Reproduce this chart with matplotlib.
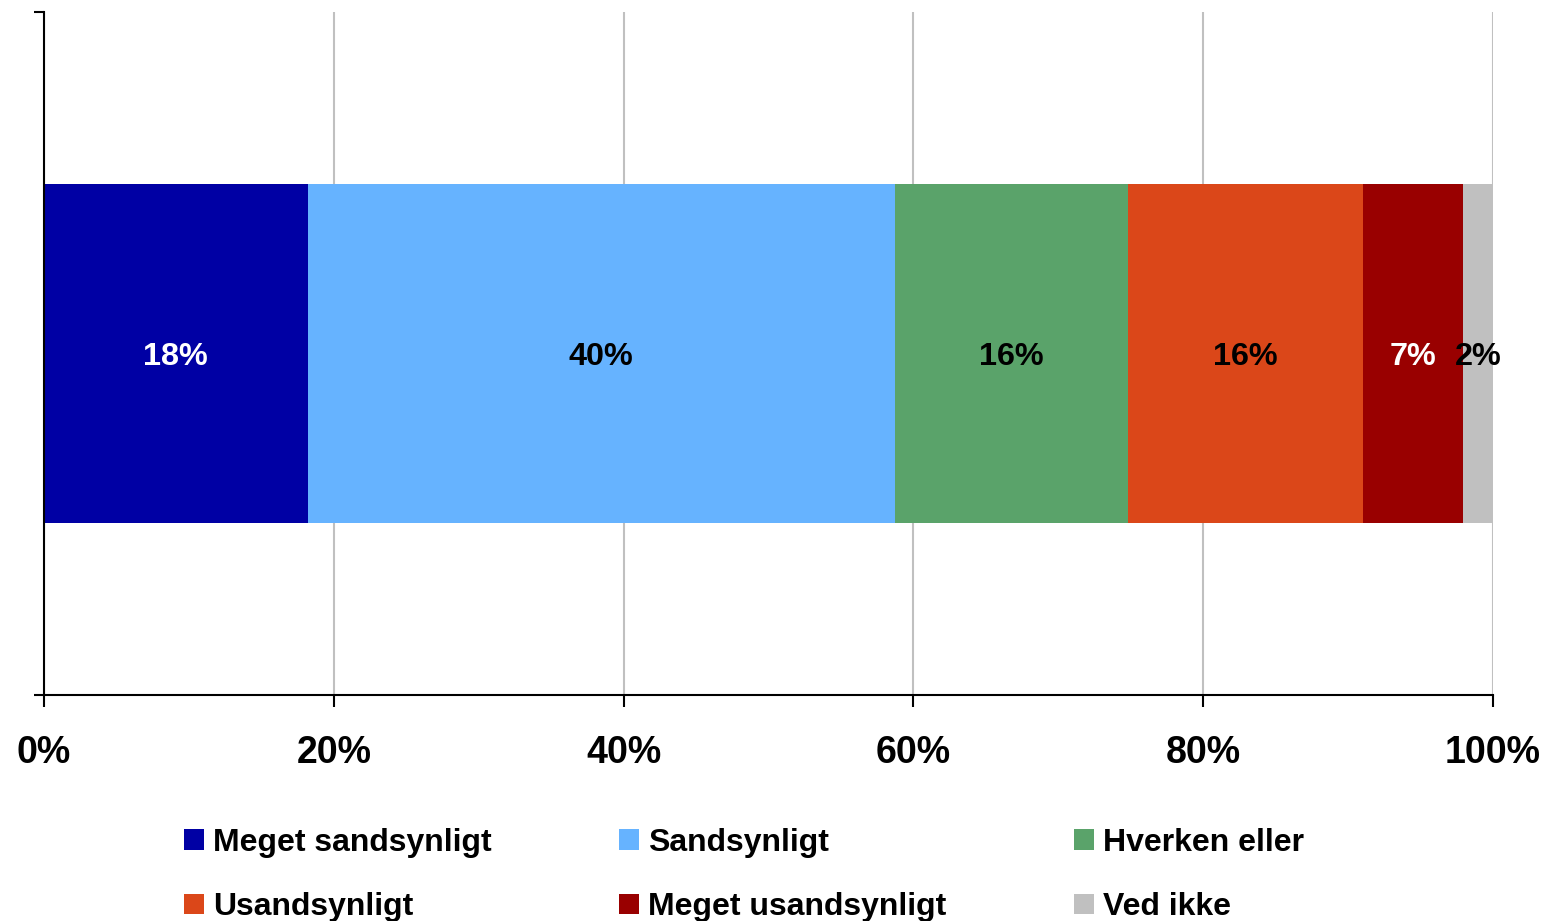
import matplotlib
matplotlib.use("Agg")
import matplotlib.pyplot as plt
import numpy as np

plt.rcParams['font.family'] = ['Liberation Sans', 'DejaVu Sans']
plt.rcParams['font.weight'] = 'bold'

categories = ["Meget sandsynligt", "Sandsynligt", "Hverken eller",
              "Usandsynligt", "Meget usandsynligt", "Ved ikke"]
values = [18.2, 40.5, 16.1, 16.2, 6.9, 2.1]
labels = ["18%", "40%", "16%", "16%", "7%", "2%"]
colors = ["#0000A4", "#66B3FF", "#5AA36A", "#DB4719", "#990000", "#C0C0C0"]
label_colors = ["white", "black", "black", "black", "white", "black"]
ticks = [0, 20, 40, 60, 80, 100]
tick_labels = ["0%", "20%", "40%", "60%", "80%", "100%"]

fig = plt.figure(figsize=(15.47, 9.21), dpi=100)
ax = fig.add_axes([44 / 1547, 1 - 695 / 921, (1493 - 44) / 1547, (695 - 12) / 921])

left = 0
handles = []
for val, lab, col, lc, name in zip(values, labels, colors, label_colors, categories):
    b = ax.barh(0, val, left=left, height=0.497, color=col, label=name, zorder=2)
    handles.append(b)
    ax.text(left + val / 2, -0.005, lab, ha='center', va='center', fontsize=23.3,
            fontweight='bold', color=lc, zorder=3)
    left += val

ax.set_xlim(0, 100)
ax.set_ylim(-0.5, 0.5)
ax.set_xticks(ticks)
ax.set_xticklabels(tick_labels, fontsize=27, fontweight='bold')
ax.set_yticks([-0.5, 0.5])
ax.set_yticklabels([])
ax.tick_params(axis='x', direction='out', length=8.5, width=1.5, pad=20)
ax.tick_params(axis='y', direction='out', length=7, width=1.5)
ax.xaxis.grid(True, color='#C0C0C0', linewidth=1.5, zorder=0)
ax.set_axisbelow(True)
for s in ['top', 'right']:
    ax.spines[s].set_visible(False)
for s in ['left', 'bottom']:
    ax.spines[s].set_linewidth(1.5)
    ax.spines[s].set_zorder(4)

# legend: row-wise order in a column-major legend
order = [0, 3, 1, 4, 2, 5]
fig.legend([handles[i] for i in order], [categories[i] for i in order],
           ncol=3, loc='upper left', bbox_to_anchor=(184 / 1547, 1 - 828 / 921),
           frameon=False, handlelength=0.62, handleheight=0.62,
           handletextpad=0.28, columnspacing=4.0, labelspacing=1.07,
           borderpad=0, borderaxespad=0,
           prop={'weight': 'bold', 'size': 23})

fig.savefig("out.png", dpi=100)
